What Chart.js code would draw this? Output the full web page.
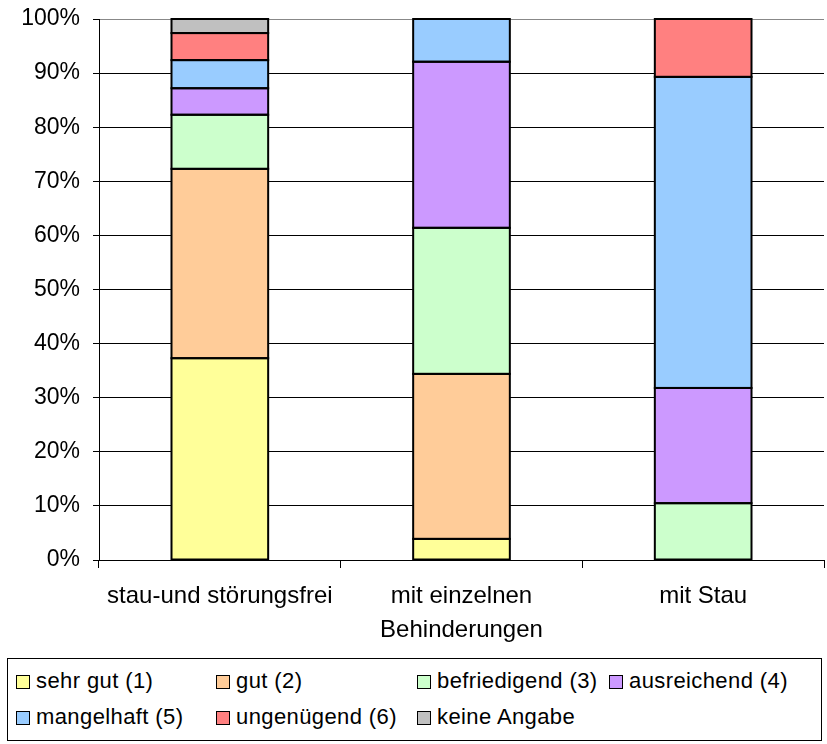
<!DOCTYPE html>
<html>
<head>
<meta charset="utf-8">
<script src="https://cdn.jsdelivr.net/npm/chart.js@4.4.1/dist/chart.umd.min.js"></script>
<style>
  body { margin: 0; background: #fff; }
  #wrap { position: relative; width: 827px; height: 744px; }
  #legend {
    position: absolute; left: 7px; top: 658px; width: 813px; height: 81px;
    border: 1px solid #000; font-family: "Liberation Sans", Arial, sans-serif;
    font-size: 22px; letter-spacing: 0.4px; color: #000;
  }
  .item { position: absolute; white-space: nowrap; line-height: 24px; }
  .box { display: inline-block; width: 12px; height: 12px; border: 1.5px solid #000;
         margin-right: 6px; vertical-align: -1px; }
</style>
</head>
<body>
<div id="wrap">
  <canvas id="chart" width="827" height="650"></canvas>
  <div id="legend"></div>
</div>
<script>
var categories = ["stau-und störungsfrei", ["mit einzelnen", "Behinderungen"], "mit Stau"];
var seriesNames = ["sehr gut (1)", "gut (2)", "befriedigend (3)", "ausreichend (4)", "mangelhaft (5)", "ungenügend (6)", "keine Angabe"];
var sehrGut      = [37.3, 3.9, 0];
var gut          = [35.0, 30.5, 0];
var befriedigend = [10.0, 27.0, 10.5];
var ausreichend  = [4.9, 30.7, 21.3];
var mangelhaft   = [5.2, 7.9, 57.5];
var ungenuegend  = [5.0, 0, 10.7];
var keineAngabe  = [2.6, 0, 0];
var colors = ['#FFFF99', '#FFCC99', '#CCFFCC', '#CC99FF', '#99CCFF', '#FF8080', '#C0C0C0'];

var values = [sehrGut, gut, befriedigend, ausreichend, mangelhaft, ungenuegend, keineAngabe];
var datasets = values.map(function (v, i) {
  return {
    label: seriesNames[i],
    data: v,
    backgroundColor: colors[i],
    borderWidth: 0,
    barPercentage: 0.4,
    categoryPercentage: 1.0
  };
});

var fam = '"Liberation Sans", Arial, sans-serif';

// black outline round every segment, like the excel look
var outline = {
  id: 'outline',
  afterDatasetsDraw: function (chart) {
    var ctx = chart.ctx;
    ctx.save();
    ctx.strokeStyle = '#000';
    ctx.lineWidth = 2;
    chart.data.datasets.forEach(function (ds, i) {
      chart.getDatasetMeta(i).data.forEach(function (bar) {
        var p = bar.getProps(['x', 'y', 'base', 'width'], true);
        if (Math.abs(p.base - p.y) < 0.5) return;
        ctx.strokeRect(p.x - p.width / 2, Math.min(p.y, p.base), p.width, Math.abs(p.base - p.y));
      });
    });
    ctx.restore();
  }
};

var config = {
  type: 'bar',
  data: { labels: categories, datasets: datasets },
  options: {
    responsive: false,
    animation: false,
    layout: { padding: { top: 19, right: 3, left: 0, bottom: 0 } },
    plugins: { legend: { display: false }, tooltip: { enabled: false } },
    scales: {
      x: {
        stacked: true,
        grid: { offset: true, drawOnChartArea: false, drawTicks: true, tickLength: 8, color: '#000' },
        border: { color: '#000', width: 1 },
        ticks: { color: '#000', font: { family: fam, size: 24, lineHeight: 1.4 }, padding: 12, maxRotation: 0 },
        afterFit: function (s) { s.height = 90; s.paddingLeft = 0; s.paddingRight = 0; }
      },
      y: {
        stacked: true,
        min: 0, max: 100,
        ticks: { stepSize: 10, color: '#000', font: { family: fam, size: 23 }, padding: 13,
                 callback: function (v) { return v + '%'; } },
        grid: { color: function (c) { return c.tick && c.tick.value === 100 ? '#888' : '#000'; },
                tickColor: '#000', tickLength: 6, lineWidth: 1 },
        border: { color: '#000', width: 1 },
        afterFit: function (s) { s.width = 99; s.paddingTop = 0; s.paddingBottom = 0; }
      }
    }
  },
  plugins: [outline]
};

var myChart = new Chart(document.getElementById('chart'), config);

// legend in fixed columns like the original
var legendPos = [[8, 22], [208, 22], [409, 22], [601, 22], [8, 58], [208, 58], [409, 58]];
var legend = document.getElementById('legend');
seriesNames.forEach(function (name, i) {
  var d = document.createElement('div');
  d.className = 'item';
  d.style.left = legendPos[i][0] + 'px';
  d.style.top = (legendPos[i][1] - 12) + 'px';
  d.innerHTML = '<span class="box" style="background:' + colors[i] + '"></span>' + name;
  legend.appendChild(d);
});
</script>
</body>
</html>
